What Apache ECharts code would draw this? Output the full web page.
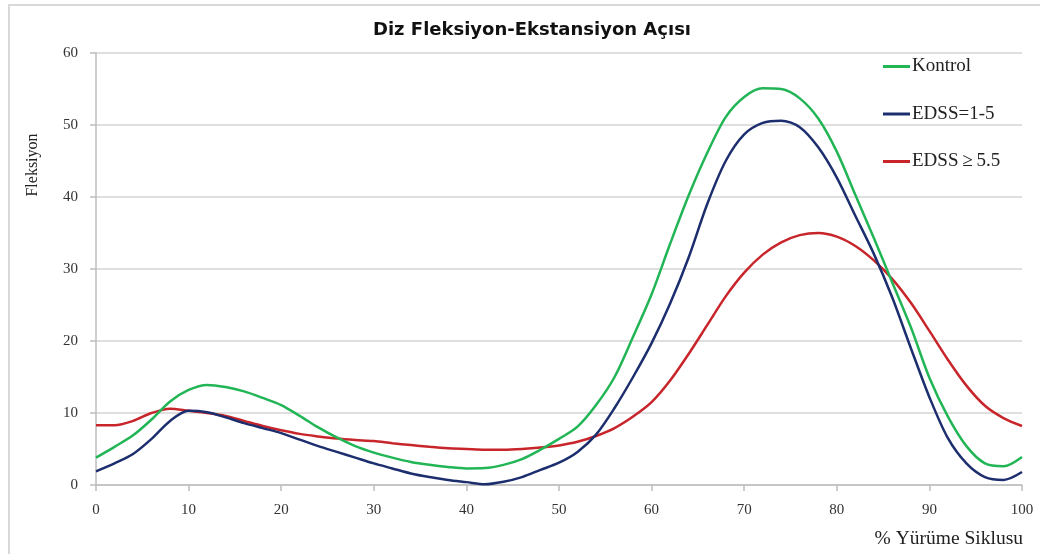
<!DOCTYPE html>
<html>
<head>
<meta charset="utf-8">
<script src="https://cdn.jsdelivr.net/npm/echarts@6/dist/echarts.min.js"></script>
<style>
html,body{margin:0;padding:0;background:#fff;}
#chart{width:1040px;height:554px;}
</style>
</head>
<body>
<div id="chart"></div>
<script>
const xValues = [0,2,4,6,8,10,12,14,16,18,20,22,24,26,28,30,32,34,36,38,40,42,44,46,48,50,52,54,56,58,60,62,64,66,68,70,72,74,76,78,80,82,84,86,88,90,92,94,96,98,100];
const kontrol = [3.8,5.3,6.9,9.1,11.6,13.2,13.9,13.6,13.0,12.1,11.1,9.6,8.0,6.6,5.4,4.5,3.8,3.2,2.8,2.5,2.3,2.35,2.8,3.6,4.9,6.4,8.1,11.1,15.0,20.6,26.5,33.5,40.2,46.1,51.1,53.9,55.1,55.0,53.7,50.9,46.3,40.3,34.3,28.1,21.9,14.9,9.5,5.4,3.0,2.6,3.9];
const edss15 = [1.9,3.0,4.3,6.4,8.9,10.3,10.1,9.4,8.6,7.9,7.2,6.3,5.4,4.6,3.8,3.0,2.3,1.6,1.1,0.7,0.4,0.1,0.45,1.1,2.1,3.1,4.6,7.0,10.7,15.0,19.7,25.2,31.6,39.0,45.0,48.7,50.3,50.6,49.7,46.9,42.7,37.4,32.1,26.0,19.0,12.2,6.5,3.0,1.1,0.7,1.8];
const edss55 = [8.3,8.3,8.9,10.0,10.6,10.3,10.0,9.6,8.9,8.2,7.6,7.1,6.75,6.45,6.25,6.1,5.8,5.55,5.3,5.1,5.0,4.9,4.9,5.0,5.2,5.5,6.0,6.8,7.9,9.5,11.5,14.5,18.2,22.2,26.2,29.5,32.0,33.7,34.7,35.0,34.5,33.2,31.2,28.6,25.3,21.4,17.4,13.8,11.0,9.3,8.2];
const seriesNames = ['Kontrol','EDSS=1-5','EDSS\u2009\u2265\u20095.5'];
const seriesColors = ['#22b556','#1c2e6e','#c8252b'];
const xTicks = [0,10,20,30,40,50,60,70,80,90,100];
const yTicks = [0,10,20,30,40,50,60];
const titleText = 'Diz Fleksiyon-Ekstansiyon Açısı';
const xName = '% Yürüme Siklusu';
const yName = 'Fleksiyon';

const pairs = arr => xValues.map((x,i)=>[x,arr[i]]);
const allData = [kontrol, edss15, edss55];

const chart = echarts.init(document.getElementById('chart'), null, {renderer:'canvas'});
const serif = '"Liberation Serif", "DejaVu Serif", serif';
chart.setOption({
  animation:false,
  backgroundColor:'#fff',
  title:{
    text:titleText,
    left:527, top:16, textAlign:'center',
    textStyle:{fontFamily:'"DejaVu Sans", sans-serif', fontWeight:'bold', fontSize:18, color:'#111'}
  },
  grid:{left:96, right:18, top:53, bottom:69, containLabel:false},
  xAxis:{
    type:'value', min:0, max:100, interval:10,
    axisLine:{show:true, lineStyle:{color:'#bdbdbd', width:1.5}},
    axisTick:{show:true, length:6, lineStyle:{color:'#bdbdbd', width:1.5}},
    splitLine:{show:false},
    axisLabel:{margin:18, fontFamily:serif, fontSize:15, color:'#333',
      formatter:v=>xTicks.includes(v)?String(v):''}
  },
  yAxis:{
    type:'value', min:0, max:60, interval:10,
    axisLine:{show:true, lineStyle:{color:'#bdbdbd', width:1.5}},
    axisTick:{show:true, length:6, lineStyle:{color:'#bdbdbd', width:1.5}},
    splitLine:{show:true, lineStyle:{color:'#d4d4d4', width:1.5}},
    axisLabel:{margin:18, fontFamily:serif, fontSize:15, color:'#333',
      formatter:v=>yTicks.includes(v)?String(v):''}
  },
  legend:{
    orient:'vertical', left:883, top:57, padding:0,
    itemWidth:27, itemHeight:3, itemGap:28.5,
    icon:'rect',
    textStyle:{fontFamily:serif, fontSize:19, color:'#222', padding:[0,0,0,-3], lineHeight:19},
    data:seriesNames
  },
  graphic:[
    {type:'rect', shape:{x:9, y:5, width:1050, height:570}, style:{fill:'none', stroke:'#d9d9d9', lineWidth:2}, silent:true, z:-1},
    {type:'text', x:33, y:165, rotation:Math.PI/2, style:{text:yName, fontFamily:serif, fontSize:16, fill:'#222', align:'center', verticalAlign:'middle'}},
    {type:'text', x:1023, y:539, style:{text:xName, fontFamily:serif, fontSize:19.5, fill:'#222', align:'right', verticalAlign:'middle'}}
  ],
  series: seriesNames.map((name,i)=>({
    name:name, type:'line', smooth:0.3, showSymbol:false, symbol:'none',
    data:pairs(allData[i]),
    lineStyle:{color:seriesColors[i], width:2.5},
    itemStyle:{color:seriesColors[i]},
    z: 3-i
  }))
});
</script>
</body>
</html>
